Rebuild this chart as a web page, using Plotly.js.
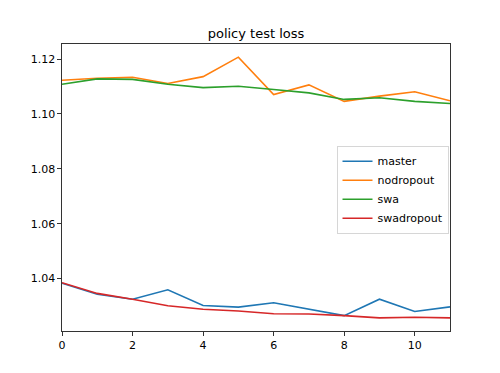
<!DOCTYPE html>
<html>
<head>
<meta charset="utf-8">
<script src="https://cdn.plot.ly/plotly-3.0.1.min.js"></script>
<style>html,body{margin:0;padding:0;background:#fff;}#chart{width:500px;height:373px;}</style>
</head>
<body>
<div id="chart"></div>
<script>
const epochs = [0,1,2,3,4,5,6,7,8,9,10,11];
const master = [1.0383,1.0343,1.0325,1.0359,1.0302,1.0296,1.0312,1.0289,1.0265,1.0325,1.0280,1.0297];
const nodropout = [1.1123,1.1130,1.1134,1.1111,1.1136,1.1207,1.1071,1.1106,1.1046,1.1065,1.1081,1.1048];
const swa = [1.1108,1.1128,1.1126,1.1108,1.1096,1.1101,1.1089,1.1077,1.1053,1.1059,1.1046,1.1038];
const swadropout = [1.0385,1.0346,1.0325,1.0301,1.0288,1.0282,1.0272,1.0271,1.0265,1.0257,1.0259,1.0257];
const seriesNames = ['master','nodropout','swa','swadropout'];
const seriesData = [master, nodropout, swa, swadropout];
const colors = ['#1f77b4','#ff7f0e','#2ca02c','#d62728'];
const yTicks = [1.04,1.06,1.08,1.10,1.12];
const xTicks = [0,2,4,6,8,10];

const traces = seriesData.map((d,i)=>({
  x: epochs, y: d, type:'scatter', mode:'lines', name: seriesNames[i],
  line:{color:colors[i], width:1.6}
}));

const font = {family:'DejaVu Sans', size:11, color:'#000'};
const layout = {
  width:500, height:373,
  margin:{l:62, r:50, t:44, b:41.5},
  paper_bgcolor:'#fff', plot_bgcolor:'#fff',
  font: font,
  title:{text:'policy test loss', font:{family:'DejaVu Sans', size:13, color:'#000'}, x:0.512, xanchor:'center', y:0.91, yanchor:'middle'},
  xaxis:{range:[0,11], tickvals:xTicks, ticktext:xTicks.map(String), showgrid:false, zeroline:false,
    showline:true, linecolor:'#000', linewidth:0.8, mirror:true, ticks:'outside', ticklen:3.8, tickwidth:0.8, tickcolor:'#000', tickfont:font},
  yaxis:{range:[1.0209,1.1255], tickvals:yTicks, ticktext:yTicks.map(v=>v.toFixed(2)), showgrid:false, zeroline:false,
    showline:true, linecolor:'#000', linewidth:0.8, mirror:true, ticks:'outside', ticklen:3.8, tickwidth:0.8, tickcolor:'#000', tickfont:font},
  legend:{x:0.708, y:0.645, xanchor:'left', yanchor:'top', bgcolor:'rgba(255,255,255,0.8)', bordercolor:'#cccccc', borderwidth:0.8,
    font:{family:'DejaVu Sans', size:11, color:'#000'}, itemwidth:30, tracegroupgap:0},
  showlegend:true
};
Plotly.newPlot('chart', traces, layout, {staticPlot:true, displayModeBar:false});
</script>
</body>
</html>
